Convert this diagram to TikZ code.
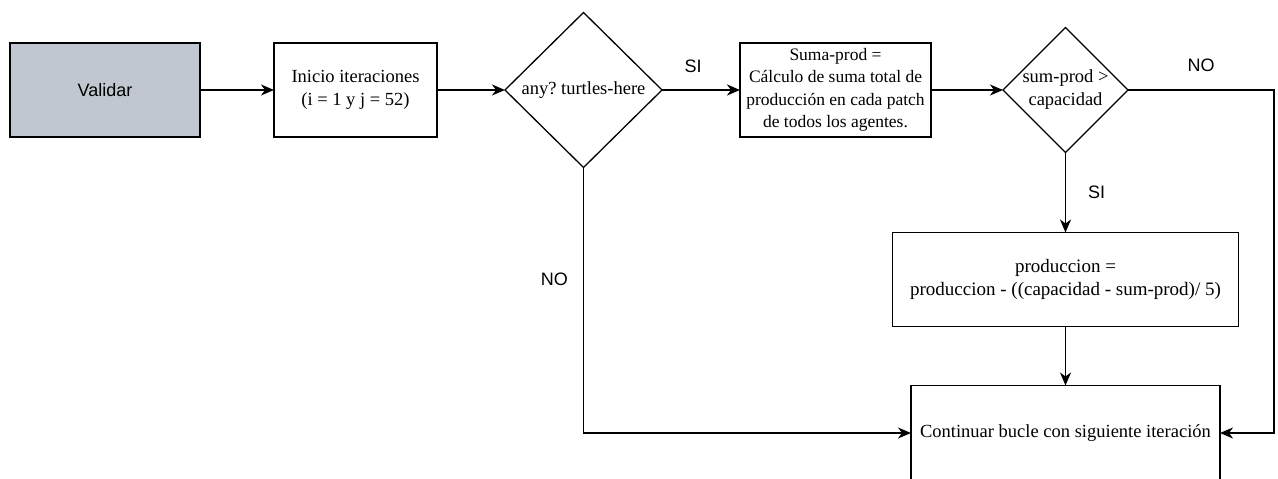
\documentclass[tikz,border=0pt]{standalone}
\usepackage{fontspec}
\setmainfont{Liberation Serif}
\setsansfont{Liberation Sans}
\usepackage{xcolor}
\usetikzlibrary{shapes,arrows.meta,positioning}
\definecolor{valgray}{HTML}{C1C7D0}
\frenchspacing

\begin{document}
\begin{tikzpicture}[node distance=70pt,
    block/.style={rectangle, draw, line width=1.3pt, outer sep=0pt, align=center, inner sep=1pt, font=\fontsize{18.5}{23}\selectfont},
    decision/.style={diamond, draw, line width=1.3pt, outer sep=0pt, align=center, inner sep=-3pt, font=\fontsize{18.5}{23}\selectfont},
    arrow/.style={-{Stealth[length=13pt,width=11pt,inset=4pt]}, line width=1.3pt},
    lbl/.style={inner sep=0pt, font=\sffamily\fontsize{18}{22}\selectfont}]

    \useasboundingbox (0,0) rectangle (1278pt,479pt);

    \node[block, fill=valgray, minimum width=190pt, minimum height=94pt, font=\sffamily\fontsize{18}{22}\selectfont] (valid) at (105pt,389pt) {Validar};
    \node[block, right=74pt of valid, minimum width=163pt, minimum height=94pt] (inicio) {Inicio iteraciones\\(i = 1 y j = 52)};
    \node[decision, right=68pt of inicio, minimum width=157pt, minimum height=155pt] (anyq) {any? turtles-here};
    \node[block, right=78pt of anyq, minimum width=191pt, minimum height=94pt, font=\fontsize{17.5}{22.5}\selectfont] (suma) {Suma-prod =\\Cálculo de suma total de\\producción en cada patch\\de todos los agentes.};
    \node[decision, right=72pt of suma, minimum width=125pt, minimum height=125pt] (capq) {sum-prod >\\capacidad};

    \node[block, below=80pt of capq, minimum width=346pt, minimum height=94pt, font=\fontsize{19}{23}\selectfont] (prod) {produccion =\\produccion - ((capacidad - sum-prod)/ 5)};
    \node[block, below=59pt of prod, minimum width=309pt, minimum height=95pt] (cont) {Continuar bucle con siguiente iteración};

    \coordinate[right=146pt of capq.east] (noturn);

    \draw[arrow] (valid) -- (inicio);
    \draw[arrow, line width=2.2pt] (inicio) -- (anyq);
    \draw[arrow, line width=2.2pt] (anyq) -- node[lbl, pos=0.4, above=16pt] {SI} (suma);
    \draw[arrow] (suma) -- (capq);
    \draw[arrow] (capq) -- node[lbl, right=22pt] {SI} (prod);
    \draw[arrow] (prod) -- (cont);
    \draw[arrow] (capq.east) -- node[lbl, above=18pt] {NO} (noturn) |- (cont.east);
    \draw[arrow] (anyq.south) |- node[lbl, pos=0.21, left=15pt] {NO} (cont.west);
\end{tikzpicture}
\end{document}
